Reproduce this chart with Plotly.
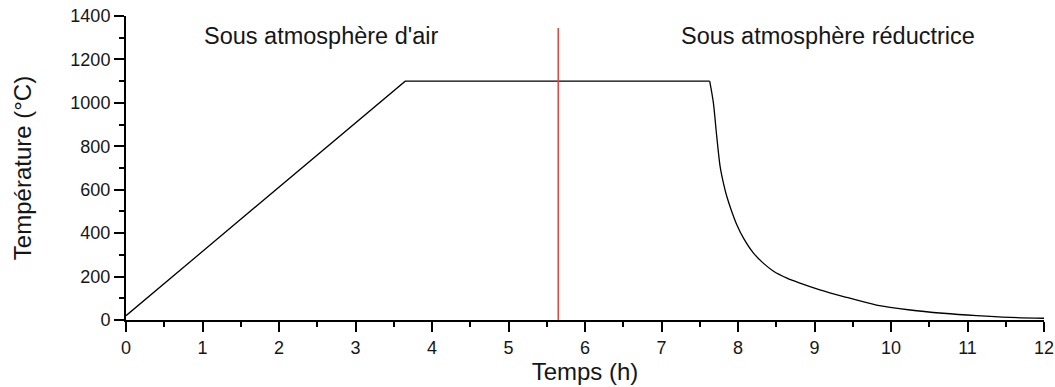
import plotly.graph_objects as go

# Heat-up ramp and isothermal hold
heat_time = [0.0, 3.65, 7.63]
heat_temp = [20, 1100, 1100]

# Natural cooling after the hold
cool_time = [7.63, 7.677, 7.721, 7.765, 7.808, 7.852, 7.917, 7.983, 8.07,
             8.20, 8.33, 8.46, 8.64, 8.81, 9.07, 9.38, 9.81, 10.25, 10.68,
             11.12, 11.56, 12.0]
cool_temp = [1100, 1003, 849, 710, 633, 571, 501, 440, 378,
             309, 262, 226, 193, 170, 139, 108, 69, 46, 31,
             20, 12, 8]

# Atmosphere switch marker
switch_time = [5.65, 5.65]
switch_temp = [0, 1345]

zone_labels = ["Sous atmosphère d'air", "Sous atmosphère réductrice"]
zone_x = [2.56, 9.18]
zone_y = [1310, 1310]

FONT = "Liberation Sans, Arial, sans-serif"
TEXT = "#161616"

fig = go.Figure()
fig.add_trace(go.Scatter(x=heat_time, y=heat_temp, mode="lines",
                         line=dict(color="#000000", width=1.3),
                         showlegend=False, hoverinfo="skip"))
fig.add_trace(go.Scatter(x=cool_time, y=cool_temp, mode="lines",
                         line=dict(color="#000000", width=1.3,
                                   shape="spline", smoothing=0.8),
                         showlegend=False, hoverinfo="skip"))
fig.add_trace(go.Scatter(x=switch_time, y=switch_temp, mode="lines",
                         line=dict(color="#e8403f", width=1.5),
                         showlegend=False, hoverinfo="skip"))

for txt, xx, yy in zip(zone_labels, zone_x, zone_y):
    fig.add_annotation(x=xx, y=yy, text=txt, showarrow=False,
                       font=dict(family=FONT, size=23.5, color=TEXT),
                       xanchor="center", yanchor="middle")

axis_common = dict(
    showline=True, linecolor="#000000", linewidth=2,
    ticks="outside", ticklen=10, tickwidth=2, tickcolor="#000000",
    showgrid=False, zeroline=False, mirror=False, automargin=False,
    tickfont=dict(family=FONT, size=18, color=TEXT),
)

fig.update_xaxes(range=[0, 12], dtick=1, tick0=0,
                 minor=dict(ticks="outside", ticklen=5, tickwidth=2,
                            tickcolor="#000000", dtick=0.5, showgrid=False),
                 title=dict(text="Temps (h)", standoff=7,
                            font=dict(family=FONT, size=24, color=TEXT)),
                 **axis_common)
fig.update_yaxes(range=[0, 1400], dtick=200, tick0=0,
                 minor=dict(ticks="outside", ticklen=5, tickwidth=2,
                            tickcolor="#000000", dtick=100, showgrid=False),
                 title=dict(text="Température (°C)", standoff=32,
                            font=dict(family=FONT, size=24, color=TEXT)),
                 **axis_common)

fig.update_layout(
    width=1055, height=387,
    margin=dict(l=126, r=11, t=16, b=67),
    paper_bgcolor="#ffffff", plot_bgcolor="#ffffff",
)

fig.write_html("out.html")
